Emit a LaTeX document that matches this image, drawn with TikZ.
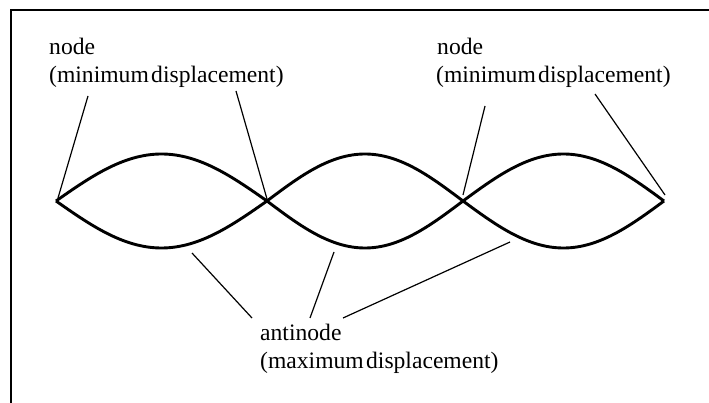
\documentclass[tikz,border=0pt]{standalone}
\usepackage{fontspec}
\setmainfont{Liberation Serif}
\begin{document}
\begin{tikzpicture}[x=1pt,y=-1pt,
  lbl/.style={anchor=base west,inner sep=0pt,font=\fontsize{23.6}{28}\selectfont},
  wave/.style={line width=2.9pt,line join=round},
  leader/.style={line width=1.2pt},
  frame/.style={line width=2.8pt}]
\useasboundingbox (0,0) rectangle (709,403);
% frame (top and left edges)
\draw[frame] (709,10) -- (11,10) -- (11,403);
% standing wave (three lobes)
\draw[wave] plot[domain=0:180,samples=61] ({56+\x*1.17222},{201-47*sin(\x)})
  -- plot[domain=0:180,samples=61] ({267+\x*1.08889},{201+47*sin(\x)})
  -- plot[domain=0:180,samples=61] ({463+\x*1.11667},{201-47*sin(\x)});
\draw[wave] plot[domain=0:180,samples=61] ({56+\x*1.17222},{201+47*sin(\x)})
  -- plot[domain=0:180,samples=61] ({267+\x*1.08889},{201-47*sin(\x)})
  -- plot[domain=0:180,samples=61] ({463+\x*1.11667},{201+47*sin(\x)});
% labels
\node[lbl] (n1a) at (49,55) {node};
\node[lbl] (n1b) at (49,83) {(minimum\hspace{0.1em}displacement)};
\node[lbl] (n2a) at (437,55) {node};
\node[lbl] (n2b) at (436,83) {(minimum\hspace{0.1em}displacement)};
\node[lbl] (a1) at (260,340) {antinode};
\node[lbl] (a2) at (260,368) {(maximum\hspace{0.1em}displacement)};
% leader line ends
\coordinate (s1) at (88,96);   \coordinate (e1) at (58,198);
\coordinate (s2) at (236,91);  \coordinate (e2) at (267,199);
\coordinate (s3) at (485,106); \coordinate (e3) at (463,195);
\coordinate (s4) at (595,94);  \coordinate (e4) at (665,195);
\coordinate (t1) at (252,318); \coordinate (u1) at (192,253);
\coordinate (t2) at (310,318); \coordinate (u2) at (334,252);
\coordinate (t3) at (343,318); \coordinate (u3) at (510,242);
\draw[leader] (s1) -- (e1);
\draw[leader] (s2) -- (e2);
\draw[leader] (s3) -- (e3);
\draw[leader] (s4) -- (e4);
\draw[leader] (t1) -- (u1);
\draw[leader] (t2) -- (u2);
\draw[leader] (t3) -- (u3);
\end{tikzpicture}
\end{document}
